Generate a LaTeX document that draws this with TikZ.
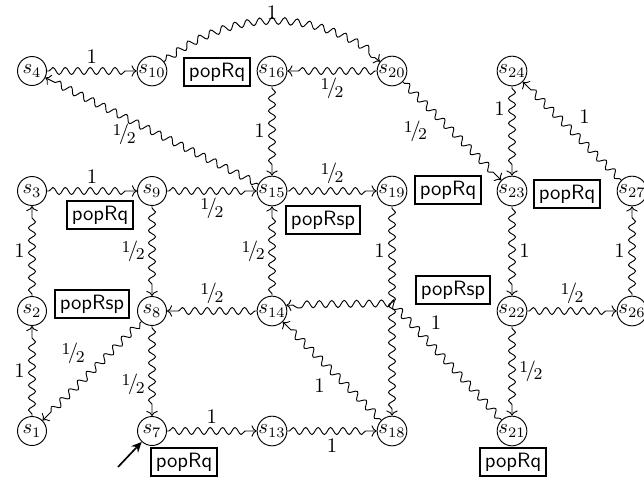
\documentclass[tikz,border=0pt]{standalone}
\usetikzlibrary{decorations.pathmorphing,arrows.meta}
\newcommand{\hlf}{\raisebox{0.45ex}{\footnotesize 1}\kern-0.12em/\kern-0.12em\raisebox{-0.4ex}{\footnotesize 2}}
\begin{document}
\begin{tikzpicture}[x=0.483pt,y=-0.483pt,
  st/.style={circle,draw,line width=0.45pt,minimum size=14pt,inner sep=0pt},
  lbl/.style={draw,line width=0.8pt,inner sep=2.4pt,font=\sffamily},
  tr/.style={draw,line width=0.45pt,-{To[length=2.5pt,width=5.5pt]},decorate,
    decoration={snake,amplitude=1.7pt,segment length=6pt,pre length=1pt,post length=3pt}},
]
\useasboundingbox (0,0) rectangle (644,482);
% states
\node[st] (s1)  at (32,431) {$s_{1}$};
\node[st] (s2)  at (32,311) {$s_{2}$};
\node[st] (s3)  at (32,191) {$s_{3}$};
\node[st] (s4)  at (32,71)  {$s_{4}$};
\node[st] (s7)  at (152,431) {$s_{7}$};
\node[st] (s8)  at (152,311) {$s_{8}$};
\node[st] (s9)  at (152,191) {$s_{9}$};
\node[st] (s10) at (152,71)  {$s_{10}$};
\node[st] (s13) at (272,431) {$s_{13}$};
\node[st] (s14) at (272,311) {$s_{14}$};
\node[st] (s15) at (272,191) {$s_{15}$};
\node[st] (s16) at (272,71)  {$s_{16}$};
\node[st] (s18) at (392,431) {$s_{18}$};
\node[st] (s19) at (392,191) {$s_{19}$};
\node[st] (s20) at (392,71)  {$s_{20}$};
\node[st] (s21) at (512,431) {$s_{21}$};
\node[st] (s22) at (512,311) {$s_{22}$};
\node[st] (s23) at (512,191) {$s_{23}$};
\node[st] (s24) at (512,71)  {$s_{24}$};
\node[st] (s26) at (632,311) {$s_{26}$};
\node[st] (s27) at (632,191) {$s_{27}$};
% action boxes
\node[lbl] (b10) at (217,72)  {popRq};
\node[lbl] (b3)  at (100,215) {popRq};
\node[lbl] (b15) at (323,220) {popRsp};
\node[lbl] (b19) at (448,190) {popRq};
\node[lbl] (b23) at (567,194) {popRq};
\node[lbl] (b2)  at (92,304)  {popRsp};
\node[lbl] (b22) at (453,290) {popRsp};
\node[lbl] (b7)  at (184,462) {popRq};
\node[lbl] (b21) at (513,462) {popRq};
% helper coordinates
\coordinate (bend) at (393,304);
\coordinate (init) at (118,467);
% transitions
\draw[tr] (s4) -- node[above]{1} (s10);
\draw[tr] (s10) to[bend left=38] node[above,inner sep=1.5pt]{1} (s20);
\draw[tr] (s20) -- node[below]{\hlf} (s16);
\draw[tr] (s16) -- node[left]{1} (s15);
\draw[tr] (s20) -- node[pos=0.32,below left]{\hlf} (s23);
\draw[tr] (s24) -- node[pos=0.25,left]{1} (s23);
\draw[tr] (s27) -- node[above right]{1} (s24);
\draw[tr] (s15) -- node[pos=0.63,below]{\hlf} (s4);
\draw[tr] (s3) -- node[above]{1} (s9);
\draw[tr] (s9) -- node[below]{\hlf} (s15);
\draw[tr] (s15) -- node[above]{\hlf} (s19);
\draw[tr] (s9) -- node[left]{\hlf} (s8);
\draw[tr] (s14) -- node[left]{\hlf} (s15);
\draw[tr] (s19) -- node[pos=0.21,left]{1} (s18);
\draw[tr] (s23) -- node[right]{1} (s22);
\draw[tr] (s26) -- node[left]{1} (s27);
\draw[tr] (s2) -- node[left]{1} (s3);
\draw[tr] (s14) -- node[above]{\hlf} (s8);
\draw[tr] (s22) -- node[above]{\hlf} (s26);
\draw[tr] (s21) -- node[pos=0.72,above right]{1} (bend) -- (s14.22);
\draw[tr] (s18) -- node[below left]{1} (s14);
\draw[tr] (s8) -- node[above left]{\hlf} (s1);
\draw[tr] (s1) -- node[left]{1} (s2);
\draw[tr] (s8) -- node[pos=0.65,left]{\hlf} (s7);
\draw[tr] (s7) -- node[above]{1} (s13);
\draw[tr] (s13) -- node[below]{1} (s18);
\draw[tr] (s22) -- node[right]{\hlf} (s21);
% initial arrow
\draw[line width=0.8pt,-{Stealth[length=5pt,width=4.5pt]}] (init) -- (s7);
\end{tikzpicture}
\end{document}
